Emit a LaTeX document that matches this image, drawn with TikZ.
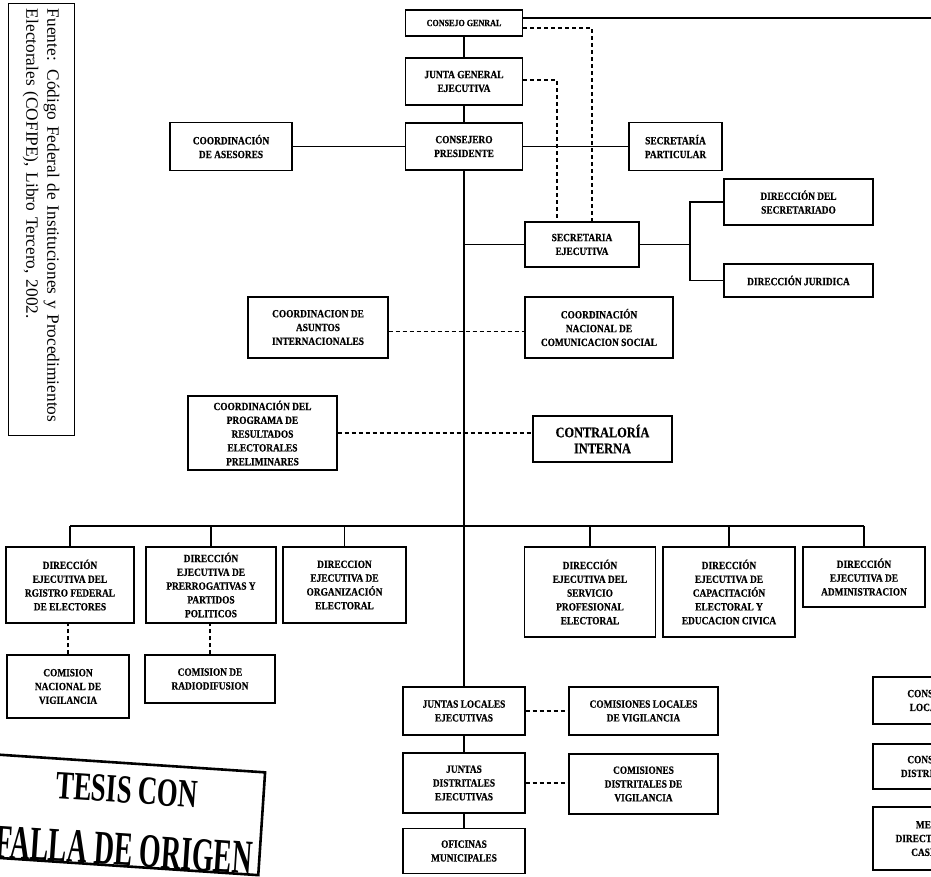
\documentclass[tikz,border=0pt]{standalone}
\usepackage{fontspec}
\setmainfont{Liberation Serif}
\newfontface\boxfont[FakeStretch=0.85,FakeBold=0.5]{Liberation Serif Bold}
\tikzset{
	orgbox/.style={draw, line width=1.4pt, inner sep=1pt, align=center, font=\boxfont\fontsize{11}{13.8}\selectfont},
	orgline/.style={line width=1.2pt},
	orgdash/.style={line width=1.3pt, dash pattern=on 4pt off 3pt},
}

\begin{document}
\begin{tikzpicture}[x=1pt,y=-1pt]
	\useasboundingbox (0,0) rectangle (931,877);
	\clip (0,0) rectangle (931,877);
	\node[draw, line width=1pt, rotate=-90, inner sep=4pt, minimum width=431pt, minimum height=66pt, text width=421pt, align=left, font=\fontsize{17.3}{21}\selectfont] (fuente) at (41,219.5) {Fuente: Código Federal de Instituciones y Procedimientos\\Electorales (COFIPE), Libro Tercero, 2002.};
	\node[orgbox, font=\boxfont\fontsize{9.5}{11}\selectfont, minimum width=117pt, minimum height=26pt] (cg) at (464,23) {CONSEJO GENRAL};
	\node[orgbox, minimum width=117pt, minimum height=47pt] (jge) at (464,81.5) {JUNTA GENERAL\\EJECUTIVA};
	\node[orgbox, minimum width=117pt, minimum height=47pt] (cp) at (464,146.5) {CONSEJERO\\PRESIDENTE};
	\node[orgbox, minimum width=122pt, minimum height=48pt] (ca) at (231,146.5) {COORDINACIÓN\\DE ASESORES};
	\node[orgbox, minimum width=93pt, minimum height=48pt] (sp) at (675.5,146.5) {SECRETARÍA\\PARTICULAR};
	\node[orgbox, minimum width=114pt, minimum height=45pt] (se) at (582,244.5) {SECRETARIA\\EJECUTIVA};
	\node[orgbox, minimum width=149pt, minimum height=46pt] (ds) at (798.5,202) {DIRECCIÓN DEL\\SECRETARIADO};
	\node[orgbox, minimum width=149pt, minimum height=33pt] (dj) at (798.5,280.5) {DIRECCIÓN JURIDICA};
	\node[orgbox, minimum width=140pt, minimum height=61pt] (cai) at (318,327.5) {COORDINACION DE\\ASUNTOS\\INTERNACIONALES};
	\node[orgbox, minimum width=148pt, minimum height=61pt] (cncs) at (599,327.5) {COORDINACIÓN\\NACIONAL DE\\COMUNICACION SOCIAL};
	\node[orgbox, minimum width=149pt, minimum height=74pt] (cprep) at (262.5,433) {COORDINACIÓN DEL\\PROGRAMA DE\\RESULTADOS\\ELECTORALES\\PRELIMINARES};
	\node[orgbox, font=\boxfont\fontsize{14.5}{16}\selectfont, minimum width=139pt, minimum height=46pt] (ci) at (602.5,439) {CONTRALORÍA\\INTERNA};
	\node[orgbox, minimum width=128pt, minimum height=76pt] (derfe) at (70,585) {DIRECCIÓN\\EJECUTIVA DEL\\RGISTRO FEDERAL\\DE ELECTORES};
	\node[orgbox, minimum width=130pt, minimum height=76pt] (deppp) at (211,585) {DIRECCIÓN\\EJECUTIVA DE\\PRERROGATIVAS Y\\PARTIDOS\\POLITICOS};
	\node[orgbox, minimum width=123pt, minimum height=76pt] (deoe) at (344.5,585) {DIRECCION\\EJECUTIVA DE\\ORGANIZACIÓN\\ELECTORAL};
	\node[orgbox, minimum width=131pt, minimum height=90pt] (despe) at (590,592) {DIRECCIÓN\\EJECUTIVA DEL\\SERVICIO\\PROFESIONAL\\ELECTORAL};
	\node[orgbox, minimum width=132pt, minimum height=90pt] (decec) at (729,592) {DIRECCIÓN\\EJECUTIVA DE\\CAPACITACIÓN\\ELECTORAL Y\\EDUCACION CIVICA};
	\node[orgbox, minimum width=122pt, minimum height=60pt] (dea) at (864,577) {DIRECCIÓN\\EJECUTIVA DE\\ADMINISTRACION};
	\node[orgbox, minimum width=122pt, minimum height=63pt] (cnv) at (68,686.5) {COMISION\\NACIONAL DE\\VIGILANCIA};
	\node[orgbox, minimum width=130pt, minimum height=48pt] (crd) at (210,679) {COMISION DE\\RADIODIFUSION};
	\node[orgbox, minimum width=122pt, minimum height=48pt] (jle) at (464,711) {JUNTAS LOCALES\\EJECUTIVAS};
	\node[orgbox, minimum width=149pt, minimum height=48pt] (clv) at (643.5,711) {COMISIONES LOCALES\\DE VIGILANCIA};
	\node[orgbox, minimum width=122pt, minimum height=60pt] (jde) at (464,783) {JUNTAS\\DISTRITALES\\EJECUTIVAS};
	\node[orgbox, minimum width=149pt, minimum height=60pt] (cdv) at (643.5,784) {COMISIONES\\DISTRITALES DE\\VIGILANCIA};
	\node[orgbox, minimum width=122pt, minimum height=45pt] (om) at (464,851) {OFICINAS\\MUNICIPALES};
	\node[orgbox, minimum width=118pt, minimum height=47pt] (cl) at (932,700.5) {CONSEJOS\\LOCALES};
	\node[orgbox, minimum width=118pt, minimum height=45pt] (cdis) at (932,766.5) {CONSEJOS\\DISTRITALES};
	\node[orgbox, minimum width=118pt, minimum height=63pt] (mdc) at (932,838.5) {MESAS\\DIRECTIVAS DE\\CASILLA};
	\node[draw, line width=2.6pt, rotate=-3.8, minimum width=294pt, minimum height=103pt] (stamp) at (115,814) {};
	\node[rotate=-3.8, font=\bfseries\fontsize{40}{40}\selectfont] (tesis) at (127,790) {\scalebox{0.67}[1]{TESIS CON}};
	\node[rotate=-3.8, font=\bfseries\fontsize{48}{48}\selectfont] (falla) at (124,850) {\scalebox{0.58}[1]{FALLA DE ORIGEN}};
	\coordinate (tr) at (935,18);
	\coordinate (d1) at (592,28);
	\coordinate (d2) at (557,80);
	\coordinate (br) at (690,244.5);
	\coordinate (bus) at (464,526);
	\draw[orgline] (cg.east |- tr) -- (tr);
	\draw[orgline] (cg) -- (jge) -- (cp);
	\draw[orgline] (ca) -- (cp) -- (sp);
	\draw[orgline] (cp) -- (jle) -- (jde) -- (om);
	\draw[orgline] (se.west) -- (se.west -| cp.south);
	\draw[orgline] (se.east) -- (br);
	\draw[orgline] (ds.west) -| (br) |- (dj.west);
	\draw[orgline] (derfe.north |- bus) -- (dea.north |- bus);
	\foreach \n in {derfe,deppp,deoe,despe,decec,dea}
		\draw[orgline] (\n.north) -- (\n.north |- bus);
	\draw[orgdash] (cg.east |- d1) -- (d1) -- (d1 |- se.north);
	\draw[orgdash] (jge.east |- d2) -- (d2) -- (d2 |- se.north);
	\draw[orgdash] ([yshift=-4pt]cai.east) -- ([yshift=-4pt]cncs.west);
	\draw[orgdash] (cprep.east) -- (cprep.east -| ci.west);
	\draw[orgdash] (cnv.north) -- (cnv.north |- derfe.south);
	\draw[orgdash] (crd.north) -- (crd.north |- deppp.south);
	\draw[orgdash] (jle) -- (clv);
	\draw[orgdash] (jde.east) -- (jde.east -| cdv.west);
\end{tikzpicture}
\end{document}
